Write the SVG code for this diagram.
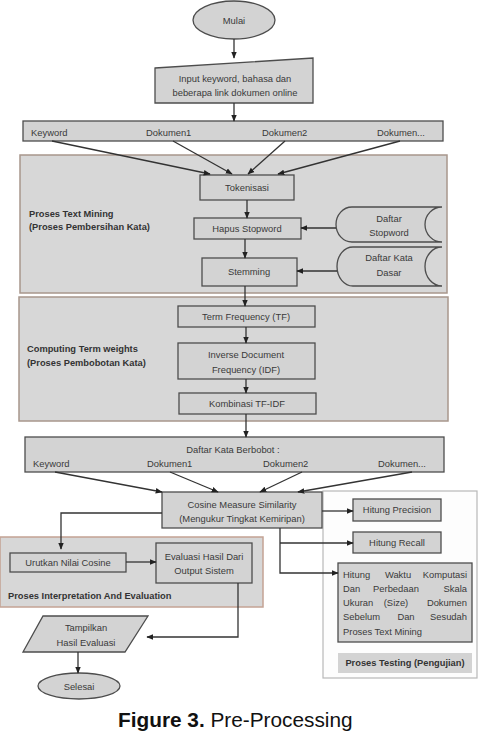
<svg xmlns="http://www.w3.org/2000/svg" width="478" height="733" viewBox="0 0 478 733">
<style>
.region{fill:#d7d7d7;stroke:#a8978c;stroke-width:1.5}
.box{fill:#d3d3d3;stroke:#4d4d4d;stroke-width:1.3}
.t{font-family:"Liberation Sans",Arial,sans-serif;font-size:9.4px;fill:#3a3a3a;text-anchor:middle}
.ts{font-family:"Liberation Sans",Arial,sans-serif;font-size:9.4px;fill:#3a3a3a}
.b{font-family:"Liberation Sans",Arial,sans-serif;font-size:9.3px;font-weight:bold;fill:#333}
.c{fill:none;stroke:#333;stroke-width:1.3}
</style>
<defs>
<marker id="ah" viewBox="0 0 10 10" refX="9" refY="5" markerWidth="7" markerHeight="7" orient="auto" markerUnits="userSpaceOnUse">
<path d="M0,1 L10,5 L0,9 Z" fill="#222"/>
</marker>
</defs>
<rect width="478" height="733" fill="#fff"/>
<g id="regions">
<rect id="region-text-mining" class="region" x="20" y="155" width="427" height="138"/>
<rect id="region-computing" class="region" x="19" y="297" width="429" height="124"/>
<rect id="region-interpretation" x="0" y="537" width="263" height="70" fill="#d7d7d7" stroke="#c4a394" stroke-width="1.5"/>
<rect id="region-testing" x="323" y="491" width="154" height="187" fill="#fdfdfd" stroke="#b8b8b8" stroke-width="1.2"/>
</g>
<g id="labels">
<text class="b" x="29" y="217">Proses Text Mining</text>
<text class="b" x="29" y="230">(Proses Pembersihan Kata)</text>
<text class="b" x="27" y="352">Computing Term weights</text>
<text class="b" x="27" y="366">(Proses Pembobotan Kata)</text>
<text class="b" x="8" y="599">Proses Interpretation And Evaluation</text>
</g>
<g id="mulai">
<ellipse class="box" cx="234" cy="20" rx="41" ry="19"/>
<text class="t" x="234" y="24">Mulai</text>
</g>
<g id="input">
<polygon class="box" points="155,68 313,58 313,103 155,103"/>
<text class="t" x="235" y="82">Input keyword, bahasa dan</text>
<text class="t" x="235" y="96">beberapa link dokumen online</text>
</g>
<g id="bar-input">
<rect class="box" x="23" y="121" width="420" height="20"/>
<text class="ts" x="31" y="136">Keyword</text>
<text class="ts" x="146" y="136">Dokumen1</text>
<text class="ts" x="262" y="136">Dokumen2</text>
<text class="ts" x="377" y="136">Dokumen...</text>
</g>
<g id="tokenisasi">
<rect class="box" x="200" y="175" width="94" height="25"/>
<text class="t" x="247" y="191">Tokenisasi</text>
</g>
<g id="hapus-stopword">
<rect class="box" x="194" y="218" width="107" height="21"/>
<text class="t" x="247" y="232">Hapus Stopword</text>
</g>
<g id="stemming">
<rect class="box" x="202" y="258" width="95" height="28"/>
<text class="t" x="249" y="275">Stemming</text>
</g>
<g id="daftar-stopword">
<path class="box" d="M442,207 H352 A16,17.5 0 0 0 352,242 H442 A17,17.5 0 0 1 442,207 Z"/>
<text class="t" x="389" y="222">Daftar</text>
<text class="t" x="389" y="236">Stopword</text>
</g>
<g id="daftar-kata-dasar">
<path class="box" d="M442,247 H353 A16,19.5 0 0 0 353,286 H442 A17,19.5 0 0 1 442,247 Z"/>
<text class="t" x="389" y="261">Daftar Kata</text>
<text class="t" x="389" y="276">Dasar</text>
</g>
<g id="tf">
<rect class="box" x="178" y="306" width="137" height="21"/>
<text class="t" x="246" y="320">Term Frequency (TF)</text>
</g>
<g id="idf">
<rect class="box" x="178" y="343" width="137" height="36"/>
<text class="t" x="246" y="358">Inverse Document</text>
<text class="t" x="246" y="373">Frequency (IDF)</text>
</g>
<g id="kombinasi">
<rect class="box" x="179" y="393" width="137" height="21"/>
<text class="t" x="247" y="407">Kombinasi TF-IDF</text>
</g>
<g id="bar-berbobot">
<rect class="box" x="25" y="437" width="419" height="35"/>
<text class="t" x="233" y="453">Daftar Kata Berbobot :</text>
<text class="ts" x="33" y="467">Keyword</text>
<text class="ts" x="147" y="467">Dokumen1</text>
<text class="ts" x="263" y="467">Dokumen2</text>
<text class="ts" x="378" y="467">Dokumen...</text>
</g>
<g id="cosine">
<rect class="box" x="162" y="492" width="160" height="36"/>
<text class="t" x="242" y="508">Cosine Measure Similarity</text>
<text class="t" x="242" y="522">(Mengukur Tingkat Kemiripan)</text>
</g>
<g id="precision">
<rect class="box" x="353" y="499" width="88" height="22"/>
<text class="t" x="397" y="513">Hitung Precision</text>
</g>
<g id="recall">
<rect class="box" x="353" y="532" width="88" height="21"/>
<text class="t" x="397" y="546">Hitung Recall</text>
</g>
<g id="waktu">
<rect class="box" x="338" y="563" width="134" height="79"/>
<text class="ts" x="343" y="578">Hitung</text><text class="t" x="398" y="578">Waktu</text><text class="ts" x="467" y="578" text-anchor="end">Komputasi</text>
<text class="ts" x="343" y="592">Dan</text><text class="t" x="396" y="592">Perbedaan</text><text class="ts" x="467" y="592" text-anchor="end">Skala</text>
<text class="ts" x="343" y="606">Ukuran</text><text class="t" x="396" y="606">(Size)</text><text class="ts" x="467" y="606" text-anchor="end">Dokumen</text>
<text class="ts" x="343" y="620">Sebelum</text><text class="t" x="406" y="620">Dan</text><text class="ts" x="467" y="620" text-anchor="end">Sesudah</text>
<text class="ts" x="343" y="635">Proses Text Mining</text>
</g>
<g id="testing-label">
<rect x="338" y="653" width="134" height="20" fill="#d3d3d3"/>
<text class="b" x="405" y="666" text-anchor="middle">Proses Testing (Pengujian)</text>
</g>
<g id="urutkan">
<rect class="box" x="10" y="553" width="116" height="19"/>
<text class="t" x="68" y="566">Urutkan Nilai Cosine</text>
</g>
<g id="evaluasi">
<rect class="box" x="156" y="543" width="96" height="40"/>
<text class="t" x="204" y="560">Evaluasi Hasil Dari</text>
<text class="t" x="204" y="574">Output Sistem</text>
</g>
<g id="tampilkan">
<polygon class="box" points="43,616 148,616 125,652 23,652"/>
<text class="t" x="86" y="631">Tampilkan</text>
<text class="t" x="86" y="646">Hasil Evaluasi</text>
</g>
<g id="selesai">
<ellipse class="box" cx="79" cy="686" rx="41" ry="13"/>
<text class="t" x="79" y="690">Selesai</text>
</g>
<g id="connectors">
<path class="c" d="M234,39 V58" marker-end="url(#ah)"/>
<path class="c" d="M234,103 V121" marker-end="url(#ah)"/>
<path class="c" d="M52,141 L210,174" marker-end="url(#ah)"/>
<path class="c" d="M173,141 L232,174" marker-end="url(#ah)"/>
<path class="c" d="M285,141 L248,174" marker-end="url(#ah)"/>
<path class="c" d="M400,141 L278,174" marker-end="url(#ah)"/>
<path class="c" d="M247,200 V218" marker-end="url(#ah)"/>
<path class="c" d="M245,239 V258" marker-end="url(#ah)"/>
<path class="c" d="M336,228 H301" marker-end="url(#ah)"/>
<path class="c" d="M337,271 H297" marker-end="url(#ah)"/>
<path class="c" d="M245,286 V306" marker-end="url(#ah)"/>
<path class="c" d="M246,327 V343" marker-end="url(#ah)"/>
<path class="c" d="M246,379 V393" marker-end="url(#ah)"/>
<path class="c" d="M246,414 V437" marker-end="url(#ah)"/>
<path class="c" d="M55,472 L162,492" marker-end="url(#ah)"/>
<path class="c" d="M170,472 L218,492" marker-end="url(#ah)"/>
<path class="c" d="M302,472 L260,492" marker-end="url(#ah)"/>
<path class="c" d="M412,472 L298,492" marker-end="url(#ah)"/>
<path class="c" d="M322,511 H353" marker-end="url(#ah)"/>
<path class="c" d="M280,528 V573 H338" marker-end="url(#ah)"/>
<path class="c" d="M280,543 H353" marker-end="url(#ah)"/>
<path class="c" d="M162,513 H61 V549" marker-end="url(#ah)"/>
<path class="c" d="M126,562 H156" marker-end="url(#ah)"/>
<path class="c" d="M238,583 V637 H147" marker-end="url(#ah)"/>
<path class="c" d="M78,652 V673" marker-end="url(#ah)"/>
</g>
<g id="caption">
<text x="118" y="727" font-family="'Liberation Sans',Arial,sans-serif" font-size="20.8" fill="#111"><tspan font-weight="bold">Figure 3.</tspan> Pre-Processing</text>
</g>
</svg>
